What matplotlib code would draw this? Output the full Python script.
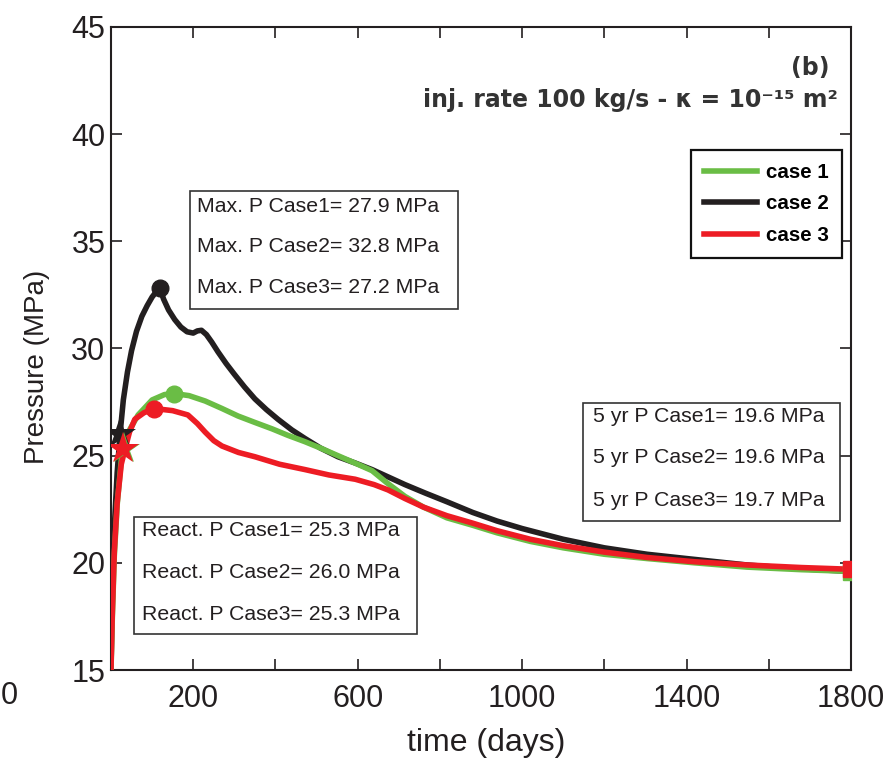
import matplotlib.pyplot as plt
from matplotlib.patches import Rectangle

plt.rcParams['font.family'] = ['Liberation Sans', 'DejaVu Sans']

# pressure histories (days, MPa)
days_1 = [0, 3, 8, 15, 25, 30, 45, 66, 100, 130, 153, 190, 229, 270, 309, 350, 392, 430, 472,
          510, 552, 600, 635, 670, 715, 760, 817, 880, 939, 1020, 1100, 1200, 1304, 1420, 1547,
          1680, 1800]
p_1 = [15.0, 17.3, 20.3, 22.7, 24.8, 25.3, 26.2, 26.9, 27.6, 27.85, 27.9, 27.8, 27.55, 27.2,
       26.85, 26.55, 26.25, 25.95, 25.65, 25.35, 25.0, 24.6, 24.3, 23.75, 23.1, 22.6, 22.1,
       21.75, 21.4, 21.0, 20.7, 20.4, 20.2, 20.0, 19.8, 19.68, 19.6]

days_2 = [0, 2, 5, 9, 15, 22, 30, 40, 50, 62, 75, 88, 100, 110, 119, 128, 140, 155, 170, 185,
          200, 210, 220, 232, 245, 260, 280, 300, 325, 350, 378, 406, 440, 472, 510, 552, 595,
          635, 675, 715, 765, 817, 880, 939, 1000, 1100, 1200, 1304, 1400, 1547, 1650, 1800]
p_2 = [15.0, 17.3, 19.8, 22.0, 24.2, 26.0, 27.6, 28.9, 29.9, 30.8, 31.5, 32.0, 32.4, 32.65,
       32.8, 32.3, 31.8, 31.35, 31.0, 30.78, 30.72, 30.82, 30.85, 30.65, 30.3, 29.85, 29.3,
       28.8, 28.2, 27.65, 27.15, 26.7, 26.2, 25.8, 25.35, 24.95, 24.65, 24.35, 24.0, 23.65,
       23.25, 22.85, 22.35, 21.95, 21.6, 21.1, 20.7, 20.4, 20.2, 19.9, 19.75, 19.6]

days_3 = [0, 3, 8, 15, 25, 34, 45, 58, 80, 105, 150, 187, 210, 229, 250, 270, 310, 350, 410,
          472, 530, 594, 640, 674, 715, 760, 817, 880, 939, 1020, 1100, 1200, 1304, 1420, 1547,
          1680, 1800]
p_3 = [15.0, 17.5, 20.5, 22.8, 24.6, 25.3, 26.1, 26.7, 27.0, 27.2, 27.1, 26.9, 26.5, 26.1,
       25.7, 25.45, 25.15, 24.95, 24.6, 24.35, 24.1, 23.9, 23.65, 23.4, 23.0, 22.6, 22.2,
       21.85, 21.5, 21.1, 20.8, 20.5, 20.25, 20.05, 19.9, 19.78, 19.7]

# marker points: max pressure, reactivation pressure, 5 yr pressure
max_day = [153, 119, 105]
max_p = [27.9, 32.8, 27.2]
react_day = [32, 22, 30]
react_p = [25.3, 26.0, 25.3]
end_day = [1800, 1800, 1800]
end_p = [19.6, 19.6, 19.7]

labels = ['case 1', 'case 2', 'case 3']
colors = ['#6abd45', '#231f20', '#ed1c24']

max_lines = ['Max. P Case1= 27.9 MPa', 'Max. P Case2= 32.8 MPa', 'Max. P Case3= 27.2 MPa']
react_lines = ['React. P Case1= 25.3 MPa', 'React. P Case2= 26.0 MPa', 'React. P Case3= 25.3 MPa']
yr5_lines = ['5 yr P Case1= 19.6 MPa', '5 yr P Case2= 19.6 MPa', '5 yr P Case3= 19.7 MPa']

W, H = 892, 761
fig = plt.figure(figsize=(W / 100, H / 100), dpi=100)
L, R, T, B = 111, 851, 27, 670
ax = fig.add_axes([L / W, 1 - B / H, (R - L) / W, (B - T) / H])

txt = '#231f20'
lw = 4
ax.plot(days_2, p_2, color=colors[1], lw=lw, label=labels[1], zorder=3)
ax.plot(days_1, p_1, color=colors[0], lw=lw, label=labels[0], zorder=4)
ax.plot(days_3, p_3, color=colors[2], lw=lw, label=labels[2], zorder=5)

# markers
for i, z in zip([1, 0, 2], [6, 7, 8]):
    ax.plot(max_day[i], max_p[i], 'o', color=colors[i], ms=12, zorder=z)
    ax.plot(react_day[i], react_p[i], '*', color=colors[i], ms=24, mew=0, zorder=z)
ax.plot(end_day[0], end_p[0] - 0.05, 's', color=colors[0], ms=11, zorder=7)
ax.plot(end_day[2], end_p[2], 's', color=colors[2], ms=11, zorder=8)

ax.set_xlim(0, 1800)
ax.set_ylim(15, 45)
ax.set_xticks([200, 600, 1000, 1400, 1800])
ax.set_xticks([400, 800, 1200, 1600], minor=True)
ax.set_yticks([15, 20, 25, 30, 35, 40, 45])
ax.tick_params(which='both', direction='in', length=8, width=1.2, top=True, right=True,
               labelsize=22, colors=txt)
ax.tick_params(axis='x', pad=10)
ax.tick_params(axis='y', pad=4)
for s in ax.spines.values():
    s.set_linewidth(1.5)
    s.set_color(txt)
ax.set_xlabel('time (days)', fontsize=23, color=txt, labelpad=10)
ax.set_ylabel('Pressure (MPa)', fontsize=20, color=txt, labelpad=15)
ax.xaxis.label.set_x((486 - L) / (R - L))
ax.yaxis.label.set_y((B - 367) / (B - T))


def to_ax(px, py):
    return (px - L) / (R - L), (B - py) / (B - T)


def info_box(x0, y0, x1, y1, tx, ys, lines):
    ax0, ay0 = to_ax(x0, y1)
    ax1, ay1 = to_ax(x1, y0)
    ax.add_patch(Rectangle((ax0, ay0), ax1 - ax0, ay1 - ay0, transform=ax.transAxes,
                           fill=True, facecolor='white', edgecolor='#333333', lw=1.2, zorder=10))
    for line, py in zip(lines, ys):
        ax_, ay_ = to_ax(tx, py)
        ax.text(ax_, ay_, line, transform=ax.transAxes, ha='left', va='center',
                fontsize=15.3, color=txt, zorder=11)


info_box(190, 191, 458, 309, 197, [207, 247, 288], max_lines)
info_box(134, 517, 417, 634, 142, [531, 572, 614], react_lines)
info_box(583, 403, 840, 521, 593, [417, 458, 500], yr5_lines)

leg = ax.legend(handles=[ax.lines[1], ax.lines[0], ax.lines[2]], loc='upper right',
                bbox_to_anchor=to_ax(842, 150), handlelength=2.6, borderaxespad=0,
                labelspacing=0.62, borderpad=0.62, handletextpad=0.45, fancybox=False,
                framealpha=1, edgecolor='#111111', prop={'weight': 'bold', 'size': 14.8})
leg.get_frame().set_linewidth(1.6)
leg.set_zorder(12)

x_b, y_b = to_ax(830, 68)
ax.text(x_b, y_b, '(b)', transform=ax.transAxes, ha='right', va='center',
        fontsize=17, fontweight='bold', color='#333333', family='DejaVu Sans')
x_t, y_t = to_ax(838, 100)
ax.text(x_t, y_t, 'inj. rate 100 kg/s - κ = 10⁻¹⁵ m²', transform=ax.transAxes,
        ha='right', va='center', fontsize=17, fontweight='bold', color='#333333',
        family='DejaVu Sans')

# cut-off tick label from the neighbouring panel
fig.text(18 / W, 1 - 696 / H, '0', ha='right', va='center', fontsize=22, color=txt)

fig.savefig('out.png', dpi=100)
